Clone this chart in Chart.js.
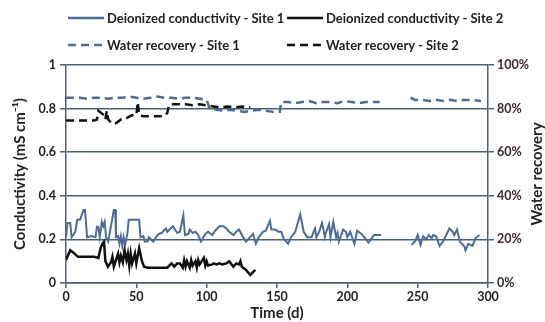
<!DOCTYPE html>
<html>
<head>
<meta charset="utf-8">
<script src="https://cdn.jsdelivr.net/npm/chart.js@4"></script>
<style>
  body { margin: 0; background: #fff; }
  #wrap { position: relative; width: 545px; height: 322px; font-family: Lato, "Open Sans", sans-serif; }
  #legend { position: absolute; left: 0; top: 0; width: 545px; height: 60px; font-weight: 700; font-size: 13px; color: #222; }
  .item { position: absolute; display: flex; align-items: center; white-space: nowrap; }
  .item svg { margin-right: 3px; }
</style>
</head>
<body>
<div id="wrap">
  <canvas id="myChart" width="545" height="322"></canvas>
  <div id="legend"></div>
</div>
<script>
// conductivity, site 1 (days / mS cm-1)
const site1Days = [0, 1, 3, 4, 6.6, 8, 10, 12.5, 13.5, 15, 18, 21, 22, 23, 24, 25.5, 26.5, 27.5, 28.5, 30, 34, 35, 35.5, 37, 38, 39, 40, 41, 42, 43.6, 44.6, 46, 52, 53, 55, 56, 58, 59, 62, 64, 66, 68, 71, 72, 76, 79, 81, 83.4, 84.6, 87, 88, 90, 92, 94, 96, 99, 101, 104, 106, 109, 112, 114, 116, 119, 121, 123, 126, 128, 130, 133, 135, 137, 140, 142, 145, 146, 149, 151, 153, 155, 158, 160, 163, 166.5, 169, 171.5, 174.6, 176, 177, 178, 180, 182, 183, 184, 185, 187, 188, 190, 192, 193, 194, 197, 199, 200, 202, 205, 207, 210, 212, 215, 219, 224, 235, 245.6, 248, 250, 252, 254, 256, 258, 260, 261, 263, 265.6, 268, 270, 271, 272.5, 275, 276, 278, 280, 283, 284, 286, 289, 291, 294];
const site1Cond = [0.21, 0.275, 0.275, 0.21, 0.235, 0.29, 0.29, 0.335, 0.335, 0.21, 0.215, 0.21, 0.258, 0.258, 0.21, 0.28, 0.26, 0.28, 0.21, 0.19, 0.335, 0.335, 0.21, 0.215, 0.18, 0.215, 0.17, 0.21, 0.175, 0.225, 0.29, 0.29, 0.29, 0.21, 0.215, 0.19, 0.19, 0.21, 0.19, 0.21, 0.225, 0.23, 0.25, 0.235, 0.26, 0.23, 0.235, 0.31, 0.22, 0.225, 0.245, 0.23, 0.235, 0.22, 0.19, 0.225, 0.235, 0.22, 0.24, 0.26, 0.26, 0.25, 0.235, 0.22, 0.235, 0.245, 0.21, 0.19, 0.205, 0.225, 0.18, 0.21, 0.235, 0.24, 0.285, 0.245, 0.245, 0.235, 0.235, 0.2, 0.18, 0.21, 0.235, 0.315, 0.235, 0.21, 0.21, 0.235, 0.25, 0.21, 0.235, 0.275, 0.245, 0.21, 0.235, 0.27, 0.21, 0.28, 0.21, 0.23, 0.19, 0.245, 0.235, 0.21, 0.235, 0.18, 0.24, 0.225, 0.21, 0.185, 0.22, 0.22, null, 0.175, 0.19, 0.22, 0.175, 0.215, 0.2, 0.22, 0.205, 0.22, 0.215, 0.17, 0.19, 0.215, 0.23, 0.25, 0.235, 0.22, 0.245, 0.19, 0.17, 0.15, 0.18, 0.17, 0.205, 0.22];

// conductivity, site 2
const site2Days = [0, 1, 3, 6, 8.5, 20, 23, 24.6, 25.8, 27, 28, 29.8, 32, 33, 34, 35.5, 37, 38, 39, 40.4, 41.6, 43, 44, 45, 46, 47, 49, 50, 52, 54, 55.5, 58, 72, 75, 77, 79, 81, 83, 84, 85, 86, 88, 89, 90, 92, 93, 94, 95, 98, 99, 100, 101, 104, 105, 107, 109, 111, 114, 116, 119, 121, 123, 124, 125, 128, 131, 133, 134.6];
const site2Cond = [0.105, 0.12, 0.15, 0.135, 0.12, 0.12, 0.115, 0.16, 0.18, 0.19, 0.1, 0.075, 0.095, 0.12, 0.075, 0.105, 0.135, 0.095, 0.125, 0.095, 0.15, 0.105, 0.135, 0.08, 0.135, 0.09, 0.135, 0.09, 0.16, 0.1, 0.075, 0.07, 0.07, 0.09, 0.075, 0.09, 0.09, 0.07, 0.105, 0.075, 0.1, 0.07, 0.105, 0.08, 0.1, 0.07, 0.105, 0.085, 0.115, 0.08, 0.1, 0.08, 0.085, 0.09, 0.085, 0.09, 0.085, 0.09, 0.1, 0.075, 0.09, 0.085, 0.1, 0.075, 0.06, 0.037, 0.05, 0.06];

// water recovery, site 1 (%)
const rec1Days = [0, 5, 10, 15, 20, 25, 30, 35, 40, 45, 50, 55, 60, 65, 70, 75, 80, 85, 90, 95, 100, 102, 107, 112, 117, 122, 127, 132, 137, 142, 147, 152, 153, 158, 163, 168, 173, 178, 183, 188, 193, 198, 203, 208, 213, 218, 223, 234, 245, 248, 253, 258, 263, 268, 273, 278, 283, 288, 295];
const rec1Vals = [85, 85, 85, 84.5, 85, 85, 84.5, 85, 85, 85.5, 85, 84.5, 85, 85.5, 85, 85, 84.5, 85, 85, 84.5, 84, 80, 79.5, 79, 79.5, 79, 78.5, 79, 79.5, 79, 78.5, 78.5, 83, 83, 82.5, 83, 83.5, 82.5, 83, 83, 82.5, 83.5, 83, 82.5, 83, 83, 83, null, 85, 84, 84, 83.5, 84, 83.5, 84, 83.5, 84, 84, 83.5];

// water recovery, site 2 (%)
const rec2Days = [0, 5, 10, 15, 20, 22, 23, 25, 27, 28, 29, 30, 33, 36, 39, 42, 44, 47, 50, 51, 52, 55, 60, 65, 70, 72, 73, 74, 80, 85, 90, 95, 100, 105, 110, 115, 120, 125, 131];
const rec2Vals = [74.5, 74.5, 74.5, 74.5, 74.5, 75, 79, 78, 77, 75, 79, 75, 73, 73.5, 75, 75, 76, 77, 77, 83, 77, 76.5, 76.5, 76.5, 76.5, 78, 81, 82, 82, 82, 81.5, 82, 81.5, 81, 80.5, 81, 80.5, 81, 80.5];

const xTicks = [0, 50, 100, 150, 200, 250, 300];

const blue = "#4b6c96";
const black = "#111111";
const gridColor = "#4f5f73";
const fontFamily = "Lato, 'Open Sans', sans-serif";

const toPoints = (days, vals) => days.map((d, i) => ({ x: d, y: vals[i] }));

const legendItems = [
  { label: "Deionized conductivity - Site 1", color: blue, dash: "", left: 68, top: 10 },
  { label: "Deionized conductivity - Site 2", color: black, dash: "", left: 287, top: 10 },
  { label: "Water recovery - Site 1", color: blue, dash: "8 5", left: 68, top: 37 },
  { label: "Water recovery - Site 2", color: black, dash: "8 5", left: 287, top: 37 },
];

const legendEl = document.getElementById("legend");
legendItems.forEach((it) => {
  const div = document.createElement("div");
  div.className = "item";
  div.style.left = it.left + "px";
  div.style.top = it.top + "px";
  div.innerHTML = `<svg width="36" height="14"><line x1="0" y1="7" x2="36" y2="7" stroke="${it.color}" stroke-width="2.5" stroke-dasharray="${it.dash}"/></svg><span>${it.label}</span>`;
  legendEl.appendChild(div);
});

// right axis title reads bottom-to-top, like the left one
const rightTitle = {
  id: "rightTitle",
  afterDraw(chart) {
    const c = chart.ctx;
    const area = chart.chartArea;
    c.save();
    c.translate(537, (area.top + area.bottom) / 2);
    c.rotate(-Math.PI / 2);
    c.font = "bold 15px " + fontFamily;
    c.fillStyle = "#222";
    c.textAlign = "center";
    c.textBaseline = "middle";
    c.fillText("Water recovery", 0, 0);
    c.restore();
  },
};

const ctx = document.getElementById("myChart").getContext("2d");
const tickFont = { family: fontFamily, size: 12.5, weight: "bold" };
const titleFont = { family: fontFamily, size: 15, weight: "bold" };

new Chart(ctx, {
  type: "line",
  data: {
    datasets: [
      { label: "Deionized conductivity - Site 1", data: toPoints(site1Days, site1Cond), borderColor: blue, borderWidth: 2, yAxisID: "y" },
      { label: "Deionized conductivity - Site 2", data: toPoints(site2Days, site2Cond), borderColor: black, borderWidth: 2.5, yAxisID: "y" },
      { label: "Water recovery - Site 1", data: toPoints(rec1Days, rec1Vals), borderColor: blue, borderWidth: 2.5, borderDash: [8, 5], yAxisID: "y1" },
      { label: "Water recovery - Site 2", data: toPoints(rec2Days, rec2Vals), borderColor: black, borderWidth: 2.5, borderDash: [8, 5], yAxisID: "y1" },
    ],
  },
  options: {
    responsive: false,
    animation: false,
    spanGaps: false,
    elements: { point: { radius: 0 }, line: { tension: 0 } },
    layout: { padding: { top: 65, left: 7, right: 0, bottom: 0 } },
    plugins: { legend: { display: false }, tooltip: { enabled: false } },
    scales: {
      x: {
        type: "linear",
        min: 0,
        max: 300,
        afterBuildTicks: (s) => { s.ticks = xTicks.map((v) => ({ value: v })); },
        afterFit: (s) => { s.height = 39; },
        grid: { display: true, drawOnChartArea: false, color: gridColor, lineWidth: 1.5, tickLength: 5 },
        border: { color: gridColor, width: 1.5 },
        ticks: { color: "#222", font: tickFont, padding: 1, maxRotation: 0 },
        title: { display: true, text: "Time (d)", color: "#222", font: titleFont, padding: 0 },
      },
      y: {
        position: "left",
        min: 0,
        max: 1,
        afterFit: (s) => { s.width = 59; },
        grid: { color: gridColor, lineWidth: 1.5, tickLength: 6 },
        border: { color: gridColor, width: 1.5 },
        ticks: { stepSize: 0.2, color: "#222", font: tickFont, padding: 4, callback: (v) => String(Math.round(v * 10) / 10) },
        title: { display: true, text: "Conductivity (mS cm⁻¹)", color: "#222", font: titleFont, padding: { top: 4, bottom: 2 } },
      },
      y1: {
        position: "right",
        min: 0,
        max: 100,
        afterFit: (s) => { s.width = 57; },
        grid: { drawOnChartArea: false, color: gridColor, lineWidth: 1.5, tickLength: 6 },
        border: { color: gridColor, width: 1.5 },
        ticks: { stepSize: 20, color: "#3b2a2d", font: tickFont, padding: 3, callback: (v) => v + "%" },
        title: { display: false },
      },
    },
  },
  plugins: [rightTitle],
});
</script>
</body>
</html>
